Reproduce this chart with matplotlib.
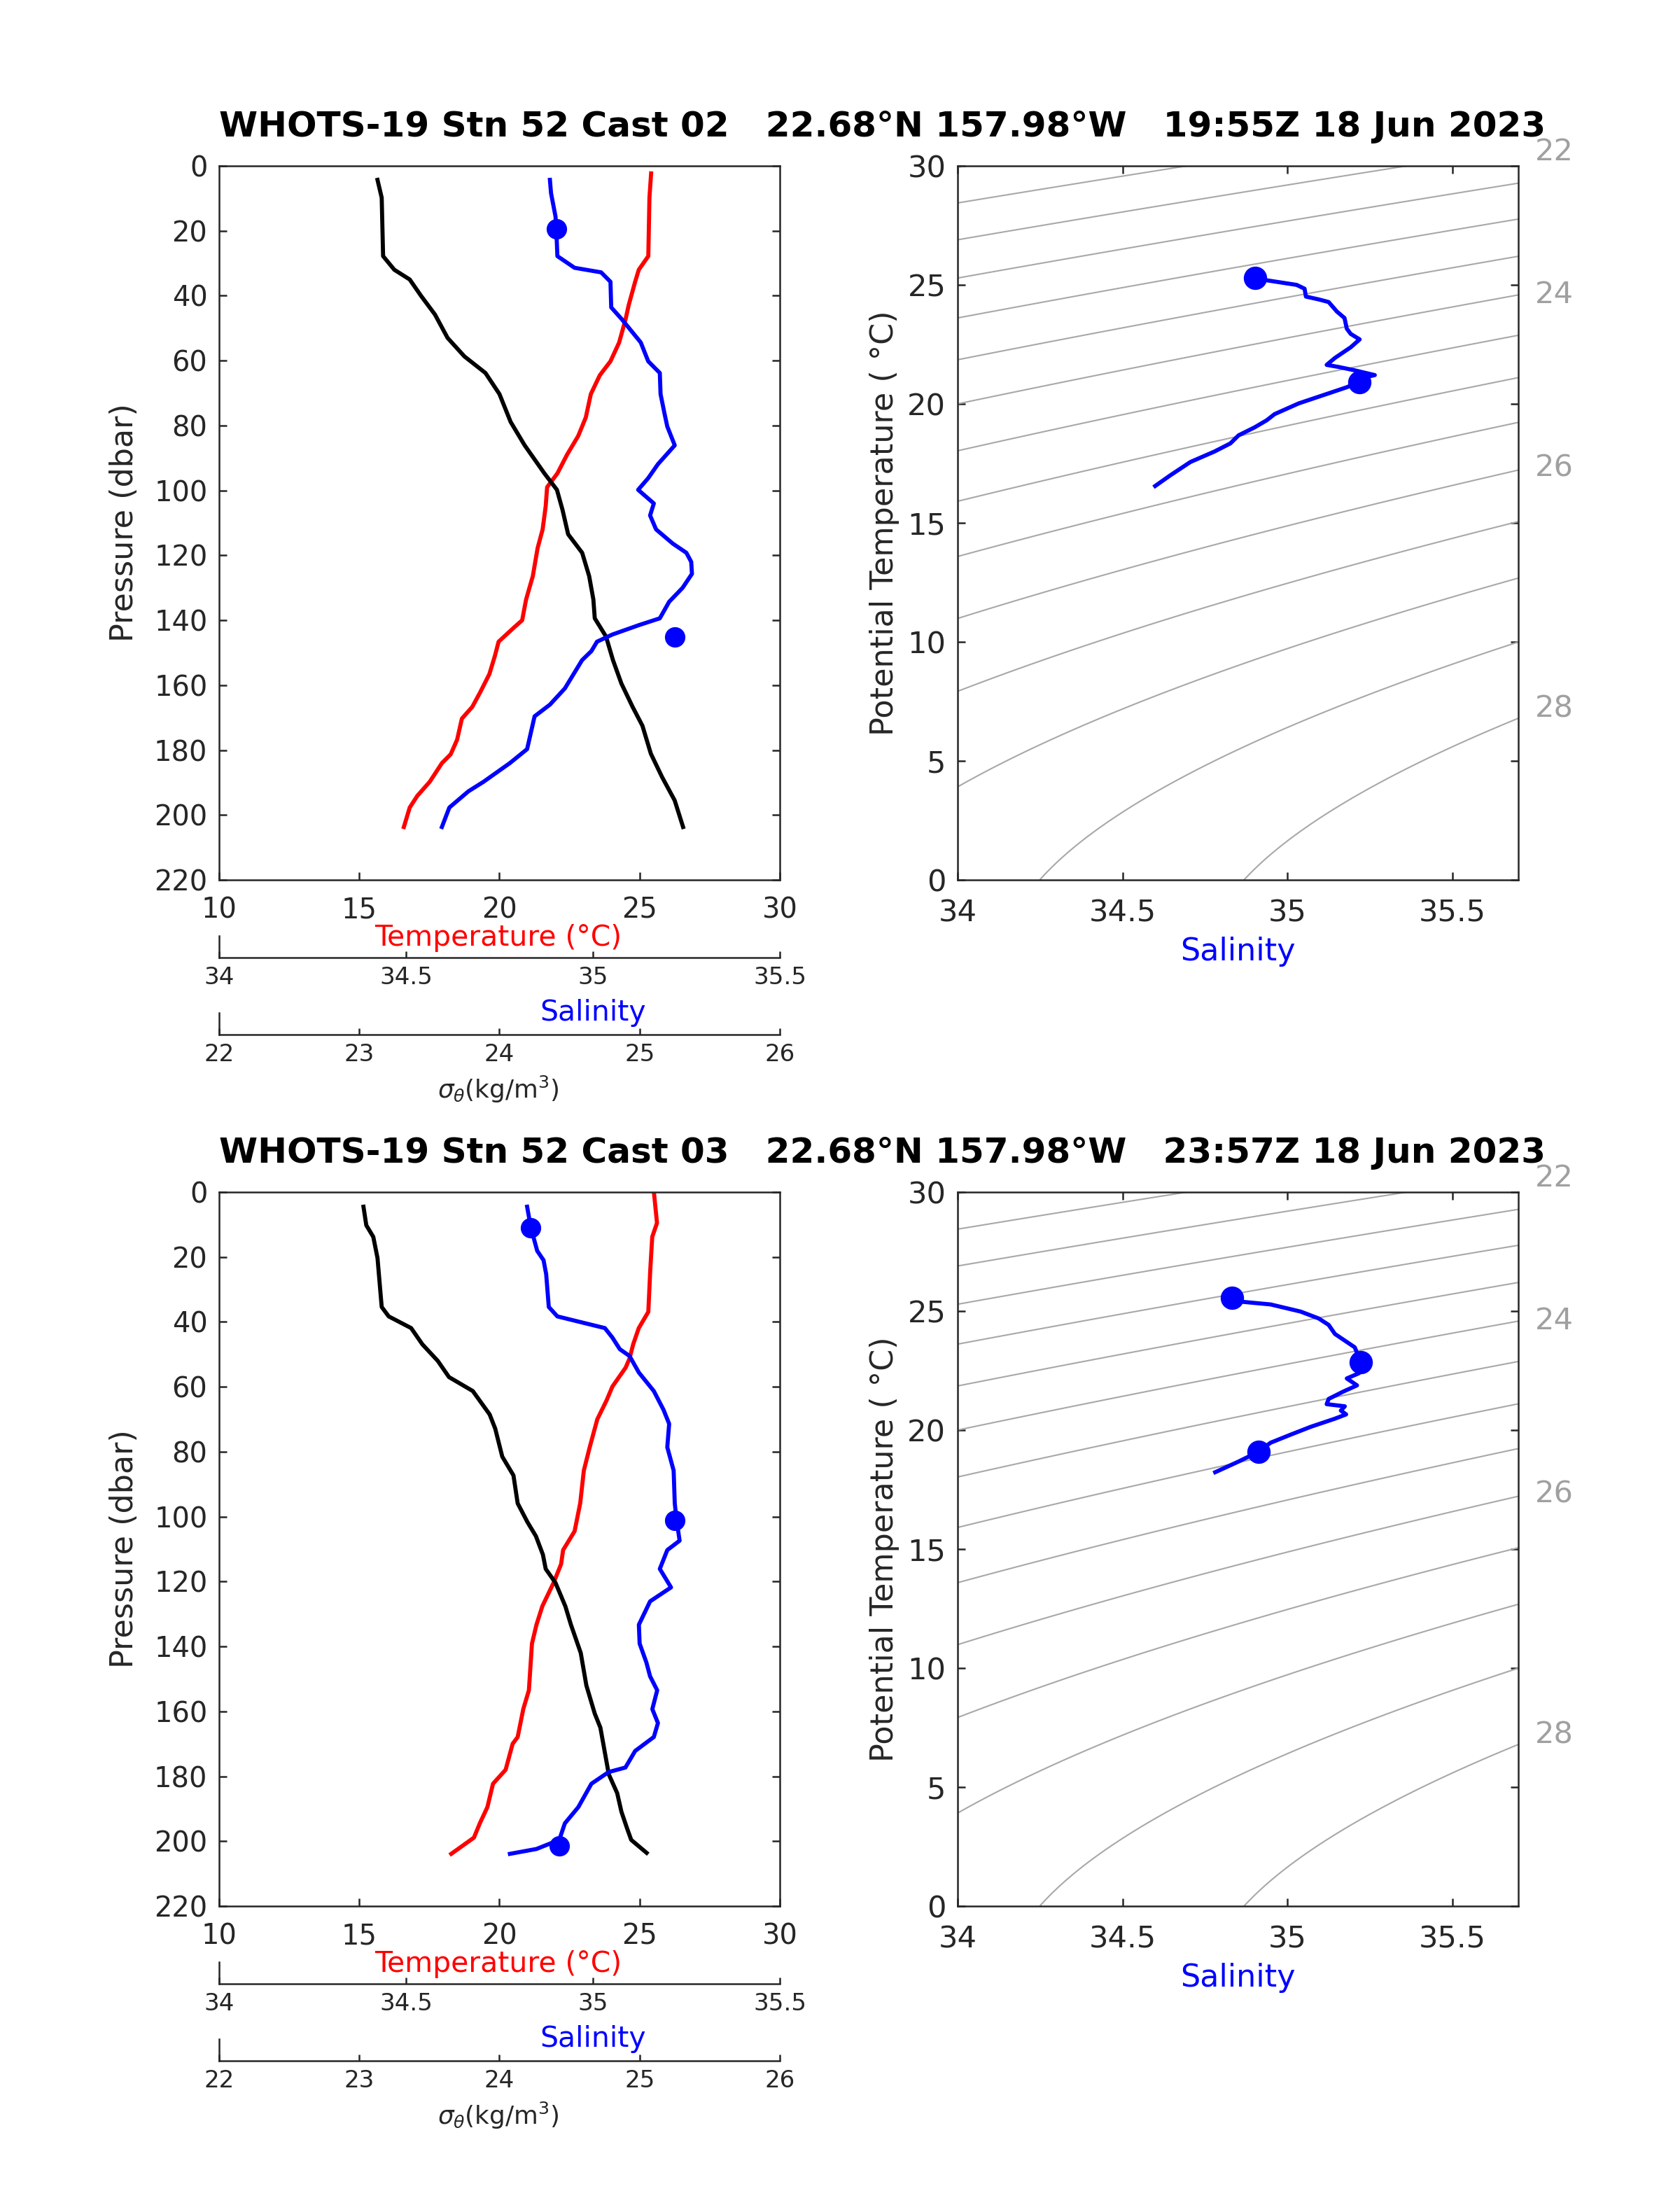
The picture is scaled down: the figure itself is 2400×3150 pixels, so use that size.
import numpy as np
import matplotlib.pyplot as plt

# ---------------- Cast 02 ----------------
c02_temp_p = [2.3, 9.8, 27.8, 32, 35.7, 42.9, 47.2, 54.4, 60.2, 64.5, 70.3, 77.5, 83.2, 89, 94.7, 99,
              104.8, 112, 117.8, 126.4, 133.6, 140, 142.3, 146.6, 150.9, 156.6, 162.4, 166.7, 170.3,
              176.8, 181.3, 184, 189.8, 194.1, 197.7, 203.7]
c02_temp = [25.41, 25.35, 25.31, 24.97, 24.84, 24.61, 24.50, 24.27, 23.96, 23.58, 23.26, 23.08, 22.81,
            22.41, 22.07, 21.70, 21.65, 21.54, 21.36, 21.19, 20.95, 20.81, 20.51, 19.97, 19.84, 19.64,
            19.30, 19.03, 18.66, 18.49, 18.26, 17.95, 17.51, 17.07, 16.80, 16.59]
c02_sig_p = [4.3, 9.8, 27.8, 32, 35, 40, 45.8, 53, 58.7, 63.8, 70.3, 78.9, 86.1, 94.7, 99.8, 106, 113.5,
             119.2, 126.4, 133.6, 139.4, 145, 152.3, 159.5, 166.7, 172.5, 181.1, 188.3, 195.5, 203.7]
c02_sig = [23.13, 23.16, 23.17, 23.25, 23.36, 23.44, 23.54, 23.63, 23.75, 23.90, 24.00, 24.08, 24.18,
           24.32, 24.41, 24.45, 24.49, 24.59, 24.64, 24.67, 24.68, 24.76, 24.81, 24.87, 24.95, 25.02,
           25.08, 25.16, 25.25, 25.31]
c02_sal_p = [4.3, 8.4, 15.6, 19.4, 27.8, 31.4, 32.8, 35.7, 43.6, 47.2, 54.4, 60.2, 63.8, 70.3, 76, 80.3,
             86.1, 91.9, 96.2, 99.8, 104, 107.7, 112, 116.4, 119.2, 122, 125.7, 130, 134.3, 139.4, 141.5,
             144.4, 146.6, 149.5, 152.3, 161, 166, 169.6, 179.7, 184, 189.8, 192.7, 197.7, 203.7]
c02_sal = [34.885, 34.888, 34.900, 34.902, 34.905, 34.951, 35.022, 35.047, 35.049, 35.077, 35.128,
           35.148, 35.179, 35.181, 35.191, 35.199, 35.219, 35.174, 35.148, 35.121, 35.163, 35.153,
           35.169, 35.214, 35.250, 35.263, 35.265, 35.240, 35.204, 35.179, 35.123, 35.052, 35.011,
           34.996, 34.971, 34.925, 34.885, 34.844, 34.824, 34.778, 34.707, 34.667, 34.616, 34.596]
c02_dot_p = [19.4, 145.1]
c02_dot_sal = [34.902, 35.219]
c02_ts_sal = [34.903, 34.925, 35.028, 35.052, 35.056, 35.095, 35.125, 35.150, 35.173, 35.180, 35.192,
              35.219, 35.192, 35.144, 35.119, 35.156, 35.204, 35.265, 35.229, 35.217, 35.180, 35.107,
              35.034, 34.961, 34.937, 34.900, 34.852, 34.827, 34.779, 34.706, 34.645, 34.599]
c02_ts_theta = [25.29, 25.22, 25.00, 24.84, 24.51, 24.39, 24.28, 23.88, 23.61, 23.16, 22.94, 22.71,
                22.38, 21.93, 21.64, 21.55, 21.41, 21.21, 21.10, 20.92, 20.70, 20.36, 20.02, 19.57,
                19.31, 19.01, 18.68, 18.34, 18.00, 17.56, 17.00, 16.55]
c02_ts_dot_sal = [34.903, 35.219]
c02_ts_dot_theta = [25.29, 20.92]

# ---------------- Cast 03 ----------------
c03_temp_p = [0.1, 9.5, 13.8, 23.9, 36.9, 41.9, 46.9, 51.3, 54.1, 59.9, 64.2, 70, 78.6, 85.8, 95.9,
              104.5, 110.3, 114.6, 120.4, 127.6, 133.3, 139.1, 153.5, 159.3, 167.9, 170, 178, 182.3,
              189.5, 194.5, 198.9, 203.9]
c03_temp = [25.51, 25.62, 25.45, 25.38, 25.31, 24.97, 24.77, 24.64, 24.50, 24.03, 23.82, 23.49, 23.22,
            23.01, 22.88, 22.68, 22.27, 22.20, 21.93, 21.53, 21.32, 21.16, 21.05, 20.85, 20.65, 20.47,
            20.22, 19.77, 19.57, 19.30, 19.09, 18.28]
c03_sig_p = [4.5, 10.2, 13.8, 20.3, 35.4, 38.3, 41.9, 46.9, 52, 57, 61.3, 68.5, 72.9, 81.5, 87.3, 95.9,
             101.7, 106, 111.7, 116.1, 120.4, 127.6, 133.3, 142, 152, 160.7, 165, 172.2, 179.4, 185.2,
             190.9, 196, 199.6, 203.6]
c03_sig = [23.03, 23.05, 23.10, 23.13, 23.16, 23.21, 23.37, 23.45, 23.56, 23.64, 23.81, 23.93, 23.97,
           24.02, 24.10, 24.13, 24.20, 24.26, 24.31, 24.33, 24.40, 24.47, 24.51, 24.58, 24.62, 24.68,
           24.72, 24.75, 24.78, 24.84, 24.87, 24.91, 24.94, 25.05]
c03_sal_p = [4.5, 10.9, 18.1, 21, 25.3, 35.4, 38.3, 41.9, 44.8, 48.4, 50.5, 55.6, 61.3, 67.1, 71.4, 78.6,
             85.8, 95.9, 101.2, 107.4, 110.3, 116.1, 121.8, 126.1, 133.3, 139.1, 144.9, 149.2, 153.5,
             159.3, 163.6, 167.9, 172.2, 177.3, 178.7, 182.3, 189.5, 194.5, 199.6, 202.4, 203.9]
c03_sal = [34.824, 34.834, 34.851, 34.868, 34.875, 34.882, 34.905, 35.032, 35.052, 35.072, 35.098,
           35.123, 35.163, 35.189, 35.204, 35.199, 35.216, 35.219, 35.224, 35.232, 35.199, 35.179,
           35.209, 35.153, 35.123, 35.125, 35.143, 35.153, 35.172, 35.159, 35.174, 35.163, 35.113,
           35.087, 35.042, 34.996, 34.961, 34.925, 34.910, 34.849, 34.778]
c03_dot_p = [10.9, 101.2, 201.4]
c03_dot_sal = [34.834, 35.219, 34.910]
c03_ts_sal = [34.833, 34.864, 34.949, 35.040, 35.095, 35.125, 35.144, 35.204, 35.223, 35.217, 35.180,
              35.211, 35.168, 35.125, 35.119, 35.174, 35.162, 35.178, 35.144, 35.071, 35.010, 34.949,
              34.912, 34.852, 34.781]
c03_ts_theta = [25.55, 25.39, 25.28, 24.98, 24.69, 24.42, 24.04, 23.48, 22.85, 22.39, 22.17, 21.88,
                21.61, 21.31, 21.09, 21.00, 20.82, 20.66, 20.48, 20.14, 19.81, 19.47, 19.09, 18.68,
                18.23]
c03_ts_dot_sal = [34.833, 35.223, 34.912]
c03_ts_dot_theta = [25.55, 22.85, 19.09]

titles = ["WHOTS-19 Stn 52 Cast 02   22.68°N 157.98°W   19:55Z 18 Jun 2023",
          "WHOTS-19 Stn 52 Cast 03   22.68°N 157.98°W   23:57Z 18 Jun 2023"]

temp_ticks = [10, 15, 20, 25, 30]
sal_ticks = [34, 34.5, 35, 35.5]
sig_ticks = [22, 23, 24, 25, 26]
p_ticks = list(range(0, 221, 20))
ts_x_ticks = [34, 34.5, 35, 35.5]
ts_y_ticks = [0, 5, 10, 15, 20, 25, 30]
sig_levels = np.arange(21.0, 28.01, 0.5)
sig_label_vals = [22, 24, 26, 28]
sig_label_theta = [30.6, 24.6, 17.3, 7.2]


def sigma0(S, T):
    # UNESCO 1981 density at atmospheric pressure, minus 1000
    rw = (999.842594 + 6.793952e-2 * T - 9.095290e-3 * T**2 + 1.001685e-4 * T**3
          - 1.120083e-6 * T**4 + 6.536332e-9 * T**5)
    a = 0.824493 - 4.0899e-3 * T + 7.6438e-5 * T**2 - 8.2467e-7 * T**3 + 5.3875e-9 * T**4
    b = -5.72466e-3 + 1.0227e-4 * T - 1.6546e-6 * T**2
    return rw + a * S + b * S**1.5 + 4.8314e-4 * S**2 - 1000.0


W, H = 2400, 3150
fig = plt.figure(figsize=(8, 10.5), dpi=300)
AX_COL = '#262626'


def fx(px):
    return px / W


def fy(py):
    return 1 - py / H


def style(ax, size, xpad=6.4):
    ax.tick_params(direction='in', top=True, right=True, length=2.6, width=0.6,
                   color=AX_COL, labelcolor=AX_COL, labelsize=size, pad=4)
    ax.tick_params(axis='x', pad=xpad)
    for s in ax.spines.values():
        s.set_color(AX_COL)
        s.set_linewidth(0.6)


def scale_axis(top_px, lim, ticks, labels):
    a = fig.add_axes([fx(313), fy(top_px + 31), fx(801), 31 / H])
    a.patch.set_visible(False)
    a.set_xlim(lim)
    a.set_ylim(0, 1)
    a.spines['top'].set_visible(False)
    a.spines['right'].set_visible(False)
    for s in a.spines.values():
        s.set_color(AX_COL)
        s.set_linewidth(0.6)
    a.set_yticks([])
    a.set_xticks(ticks)
    a.set_xticklabels(labels)
    a.tick_params(direction='in', length=2.2, width=0.6, color=AX_COL,
                  labelcolor=AX_COL, labelsize=8.2, pad=3)
    return a


casts = [
    (c02_temp_p, c02_temp, c02_sig_p, c02_sig, c02_sal_p, c02_sal, c02_dot_p, c02_dot_sal,
     c02_ts_sal, c02_ts_theta, c02_ts_dot_sal, c02_ts_dot_theta),
    (c03_temp_p, c03_temp, c03_sig_p, c03_sig, c03_sal_p, c03_sal, c03_dot_p, c03_dot_sal,
     c03_ts_sal, c03_ts_theta, c03_ts_dot_sal, c03_ts_dot_theta),
]

Sg, Tg = np.meshgrid(np.linspace(34, 35.7, 200), np.linspace(0, 30, 200))
SIG = sigma0(Sg, Tg)

for i, cast in enumerate(casts):
    (tp, tv, gp, gv, sp, sv, dp, ds, tss, tst, tsds, tsdt) = cast
    off = 1466 * i

    fig.text(fx(313), fy(181 + off), titles[i], ha='left', va='center',
             fontsize=12.0, fontweight='bold')

    # profile panel
    ax = fig.add_axes([fx(313), fy(1257 + off), fx(801), 1020 / H])
    ax.set_xlim(10, 30)
    ax.set_ylim(220, 0)
    ax.set_xticks(temp_ticks)
    ax.set_yticks(p_ticks)
    style(ax, 9.6, xpad=5.6)
    ax.set_ylabel('Pressure (dbar)', fontsize=10.7, color=AX_COL, labelpad=5)
    ax.plot(tv, tp, color='red', lw=1.4)

    ax_sig = ax.twiny()
    ax_sig.set_xlim(22, 26)
    ax_sig.axis('off')
    ax_sig.plot(gv, gp, color='black', lw=1.4)

    ax_sal = ax.twiny()
    ax_sal.set_xlim(34, 35.5)
    ax_sal.axis('off')
    ax_sal.plot(sv, sp, color='blue', lw=1.4)
    ax_sal.plot(ds, dp, 'o', color='blue', ms=6)

    fig.text(fx(712), fy(1340 + off), 'Temperature (°C)', color='red',
             ha='center', va='center', fontsize=9.8)
    scale_axis(1337 + off, (34, 35.5), sal_ticks, ['34', '34.5', '35', '35.5'])
    fig.text(fx(847), fy(1447 + off), 'Salinity', color='blue',
             ha='center', va='center', fontsize=9.8)
    scale_axis(1447 + off, (22, 26), sig_ticks, [str(v) for v in sig_ticks])
    fig.text(fx(712), fy(1556 + off), r'$\sigma_{\theta}$(kg/m$^3$)', color=AX_COL,
             ha='center', va='center', fontsize=8.6)

    # T-S panel
    ts = fig.add_axes([fx(1368), fy(1257 + off), fx(801), 1020 / H])
    ts.set_xlim(34, 35.7)
    ts.set_ylim(0, 30)
    ts.set_xticks(ts_x_ticks)
    ts.set_xticklabels(['34', '34.5', '35', '35.5'])
    ts.set_yticks(ts_y_ticks)
    style(ts, 10.4)
    ts.contour(Sg, Tg, SIG, levels=sig_levels, colors='#a8a8a8', linewidths=0.5)
    for v, th in zip(sig_label_vals, sig_label_theta):
        ts.text(35.81, th, str(v), color='#a0a0a0', fontsize=10.4,
                ha='center', va='center', clip_on=False)
    ts.plot(tss, tst, color='blue', lw=1.4)
    ts.plot(tsds, tsdt, 'o', color='blue', ms=7)
    ts.set_ylabel('Potential Temperature ( °C)', fontsize=10.7, color=AX_COL, labelpad=2.6)
    ts.set_xlabel('Salinity', fontsize=10.7, color='blue', labelpad=3)

fig.savefig('out.png', dpi=300)
